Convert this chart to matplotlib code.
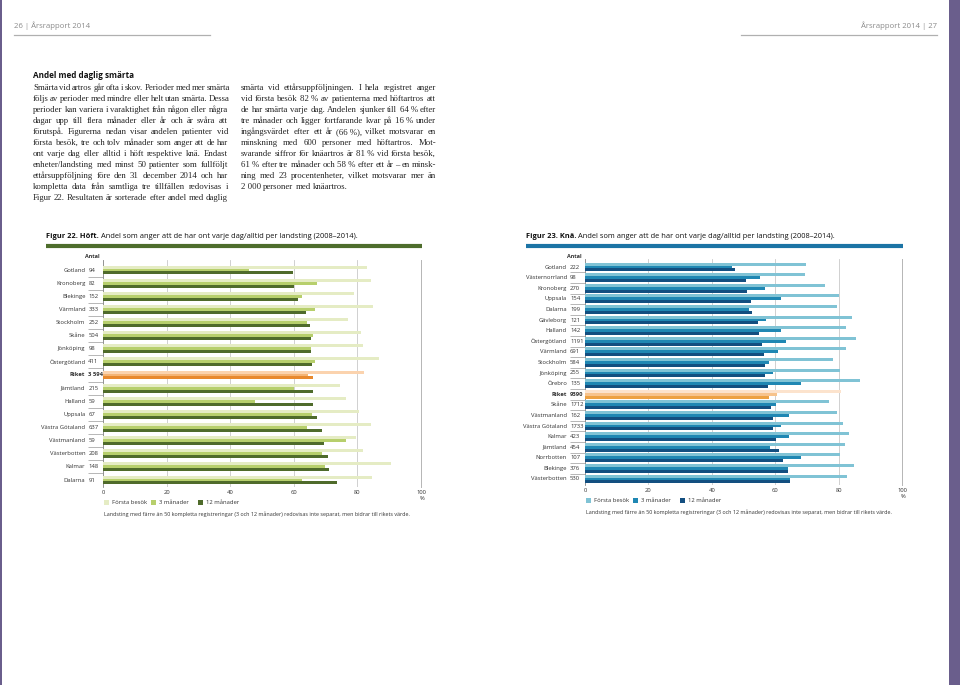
import matplotlib.pyplot as plt
from matplotlib.patches import Rectangle
from matplotlib.lines import Line2D
import numpy as np

# Figur 22 - Höft (sorted by 12 months)
hip_regions = ["Gotland", "Kronoberg", "Blekinge", "Värmland", "Stockholm", "Skåne",
               "Jönköping", "Östergötland", "Riket", "Jämtland", "Halland", "Uppsala",
               "Västra Götaland", "Västmanland", "Västerbotten", "Kalmar", "Dalarna"]
hip_n = ["94", "82", "152", "333", "252", "504", "98", "411", "3 594", "215", "59", "67",
         "637", "59", "208", "148", "91"]
hip_first = [83.1, 84.2, 79.0, 84.8, 77.0, 81.0, 81.6, 86.9, 82.2, 74.4, 76.4, 80.6,
             84.4, 79.5, 81.7, 90.6, 84.6]
hip_3m = [45.9, 67.2, 62.5, 66.5, 64.0, 65.9, 65.3, 66.7, 64.3, 60.1, 47.6, 65.7,
          64.1, 76.3, 68.8, 69.7, 62.6]
hip_12m = [59.8, 60.0, 61.3, 63.8, 65.2, 65.4, 65.4, 65.6, 66.0, 66.1, 66.1, 67.3,
           68.7, 69.6, 70.7, 70.9, 73.7]

# Figur 23 - Knä
knee_regions = ["Gotland", "Västernorrland", "Kronoberg", "Uppsala", "Dalarna", "Gävleborg",
                "Halland", "Östergötland", "Värmland", "Stockholm", "Jönköping", "Örebro",
                "Riket", "Skåne", "Västmanland", "Västra Götaland", "Kalmar", "Jämtland",
                "Norrbotten", "Blekinge", "Västerbotten"]
knee_n = ["222", "98", "270", "154", "199", "121", "142", "1191", "691", "584", "255", "135",
          "9390", "1712", "162", "1733", "423", "454", "107", "376", "530"]
knee_first = [69.8, 69.4, 75.6, 80.0, 79.4, 84.3, 82.4, 85.5, 82.4, 78.3, 80.3, 86.8,
              80.7, 76.9, 79.5, 81.3, 83.2, 81.9, 80.3, 84.9, 82.5]
knee_3m = [46.4, 55.1, 56.7, 61.7, 51.7, 57.0, 61.9, 63.3, 60.8, 58.1, 59.3, 68.1,
           60.7, 60.1, 64.2, 61.8, 64.4, 58.5, 68.2, 64.1, 64.8]
knee_12m = [47.2, 50.9, 51.0, 52.5, 52.7, 54.6, 54.9, 55.7, 56.4, 56.8, 56.9, 57.8,
            58.0, 58.8, 59.3, 59.4, 60.3, 61.3, 62.6, 63.9, 64.8]

legend_labels = ["Första besök", "3 månader", "12 månader"]
xticks = [0, 20, 40, 60, 80, 100]

left_text = [
    "Smärta vid artros går ofta i skov. Perioder med mer smärta",
    "följs av perioder med mindre eller helt utan smärta. Dessa",
    "perioder kan variera i varaktighet från någon eller några",
    "dagar upp till flera månader eller år och är svåra att",
    "förutspå. Figurerna nedan visar andelen patienter vid",
    "första besök, tre och tolv månader som anger att de har",
    "ont varje dag eller alltid i höft respektive knä. Endast",
    "enheter/landsting med minst 50 patienter som fullföljt",
    "ettårsuppföljning före den 31 december 2014 och har",
    "kompletta data från samtliga tre tillfällen redovisas i",
    "Figur 22. Resultaten är sorterade efter andel med daglig",
]
right_text = [
    "smärta vid ettårsuppföljningen. I hela registret anger",
    "vid första besök 82\u00a0% av patienterna med höftartros att",
    "de har smärta varje dag. Andelen sjunker till 64\u00a0% efter",
    "tre månader och ligger fortfarande kvar på 16\u00a0% under",
    "ingångsvärdet efter ett år (66\u00a0%), vilket motsvarar en",
    "minskning med 600 personer med höftartros. Mot-",
    "svarande siffror för knäartros är 81\u00a0% vid första besök,",
    "61\u00a0% efter tre månader och 58\u00a0% efter ett år – en minsk-",
    "ning med 23 procentenheter, vilket motsvarar mer än",
    "2\u00a0000 personer med knäartros.",
]
note = ("Landsting med färre än 50 kompletta registreringar (3 och 12 månader) "
        "redovisas inte separat, men bidrar till rikets värde.")

W, H = 960, 685
SANS = ["Open Sans", "DejaVu Sans"]
SERIF = ["Liberation Serif", "DejaVu Serif"]

fig = plt.figure(figsize=(W / 100, H / 100), dpi=100)
fig.patch.set_facecolor("white")
rend = fig.canvas.get_renderer()


def T(x, y, s, **kw):
    kw.setdefault("va", "center")
    kw.setdefault("family", SANS)
    return fig.text(x / W, 1 - y / H, s, **kw)


def hline(x0, x1, y, **kw):
    fig.add_artist(Line2D([x0 / W, x1 / W], [1 - y / H, 1 - y / H],
                          transform=fig.transFigure, **kw))


def width(t):
    return t.get_window_extent(rend).width


def justify(lines, x0, x1, y0, dy, ragged_last=True, **kw):
    # word by word placement on a common baseline
    t1, t2 = T(0, 300, "a a", **kw), T(0, 300, "aa", **kw)
    space = width(t1) - width(t2)
    t1.remove()
    t2.remove()
    for i, line in enumerate(lines):
        y = y0 + i * dy
        words = line.split(" ")
        objs = [T(0, y, w, va="baseline", **kw) for w in words]
        ws = [width(o) for o in objs]
        if i == len(lines) - 1 and ragged_last:
            gap = space
        else:
            gap = max((x1 - x0 - sum(ws)) / max(len(words) - 1, 1), 0.6 * space)
        x = x0
        for o, w in zip(objs, ws):
            o.set_x(x / W)
            x += w + gap


# page frame
fig.add_artist(Rectangle((949 / W, 0), 11 / W, 1, transform=fig.transFigure,
                         color="#6a5e8c", lw=0))
fig.add_artist(Rectangle((0, 0), 2 / W, 1, transform=fig.transFigure,
                         color="#6a5e8c", lw=0))
T(14, 26, "26 | Årsrapport 2014", fontsize=5.6, color="#8a8a8a")
T(937, 26, "Årsrapport 2014 | 27", fontsize=5.6, color="#8a8a8a", ha="right")
hline(14, 210, 34.5, color="#b0b0b0", lw=0.9)
hline(741, 937, 34.5, color="#b0b0b0", lw=0.9)

# body text
T(33, 75.5, "Andel med daglig smärta", fontsize=5.9, weight="bold", color="#111")
justify(left_text, 33, 228, 90.5, 10.95, ragged_last=False, fontsize=6.3, family=SERIF,
        color="#222")
justify(right_text, 241, 436, 90.5, 10.95, fontsize=6.3, family=SERIF, color="#222")


def chart(x0, x1, ytop, ybot, yrow0, dy, regions, counts, first, m3, m12, cols, rcols,
          barcol, tx, title_bold, title_rest):
    n = len(regions)
    ax = fig.add_axes([x0 / W, 1 - ybot / H, (x1 - x0) / W, (ybot - ytop) / H])
    ax.set_xlim(0, 100)
    ax.set_ylim((ybot - yrow0) / dy, (ytop - yrow0) / dy)
    y = np.arange(n)
    bh = 2.95 / dy
    for i in range(n):
        c = rcols if regions[i] == "Riket" else cols
        ax.barh(y[i] - bh, first[i], height=bh, color=c[0], lw=0, zorder=3)
        ax.barh(y[i], m3[i], height=bh, color=c[1], lw=0, zorder=3)
        ax.barh(y[i] + bh, m12[i], height=bh, color=c[2], lw=0, zorder=3)
    ax.set_xticks(xticks)
    ax.set_xticklabels([str(v) for v in xticks], fontsize=4.2, family=SANS, color="#333")
    ax.tick_params(axis="x", length=0, pad=2)
    ax.grid(axis="x", color="#c9c9c9", lw=0.6, zorder=0)
    ax.set_yticks([])
    ax.set_yticks(np.arange(n - 1) + 0.5, minor=True)
    ax.tick_params(axis="y", which="minor", length=10.8, width=0.5, color="#9a9a9a")
    for s in ["top", "bottom"]:
        ax.spines[s].set_visible(False)
    ax.spines["left"].set_color("#8a8a8a")
    ax.spines["left"].set_linewidth(0.6)
    ax.spines["right"].set_color("#b5b5b5")
    ax.spines["right"].set_linewidth(0.7)
    tr = ax.get_yaxis_transform()
    for i in range(n):
        bold = "bold" if regions[i] == "Riket" else "normal"
        ax.text((x0 - 18 - x0) / (x1 - x0), y[i], regions[i], transform=tr, ha="right",
                va="center", fontsize=4.2, family=SANS, color="#333", weight=bold)
        ax.text((x0 - 15 - x0) / (x1 - x0), y[i], counts[i], transform=tr, ha="left",
                va="center", fontsize=4.2, family=SANS, color="#333", weight=bold)
    T(x0 - 11, ytop - 3, "Antal", fontsize=4.0, weight="bold", color="#333", ha="center")
    T(x1 + 1, ybot + 11, "%", fontsize=4.2, color="#333", ha="center")
    # legend
    lx = [x0 + 1, x0 + 48, x0 + 95]
    for k in range(3):
        fig.add_artist(Rectangle(((lx[k]) / W, 1 - (ybot + 18) / H), 5 / W, 5 / H,
                                 transform=fig.transFigure, color=cols[k], lw=0))
        T(lx[k] + 8, ybot + 15.5, legend_labels[k], fontsize=4.2, color="#333")
    T(x0 + 1, ybot + 27, note, fontsize=3.9, color="#333")
    # title and bar
    tb = T(tx, 236, title_bold, fontsize=5.4, weight="bold", color="#111")
    T(tx + width(tb) + 2, 236, title_rest, fontsize=5.4, color="#111")
    hline(tx, x1 + 1, 246, color=barcol, lw=3.0, solid_capstyle="butt")
    return ax


chart(103.3, 421, 260, 487, 270, 13.125, hip_regions, hip_n, hip_first, hip_3m, hip_12m,
      ["#e5ecc4", "#b7cf6c", "#4f6b2b"], ["#fbd3ae", "#f4b475", "#e8892e"], "#4e6d2c",
      46, "Figur 22. Höft.",
      "Andel som anger att de har ont varje dag/alltid per landsting (2008–2014).")
chart(585, 902, 259, 485, 267, 10.6, knee_regions, knee_n, knee_first, knee_3m, knee_12m,
      ["#80c3d5", "#1f87b3", "#134f80"], ["#fce3cd", "#f7c38c", "#eda142"], "#1c74a5",
      526, "Figur 23. Knä.",
      "Andel som anger att de har ont varje dag/alltid per landsting (2008–2014).")

plt.savefig("out.png", dpi=100, facecolor="white")
